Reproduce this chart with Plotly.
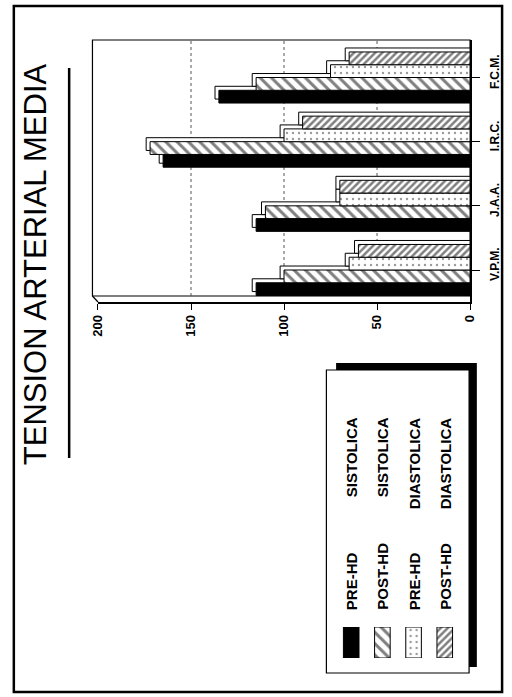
import plotly.graph_objects as go

# ---- data -------------------------------------------------------------
categories = ["V.P.M.", "J.A.A.", "I.R.C.", "F.C.M."]
series_names = ["PRE-HD SISTOLICA", "POST-HD SISTOLICA",
                "PRE-HD DIASTOLICA", "POST-HD DIASTOLICA"]
legend_left = ["PRE-HD", "POST-HD", "PRE-HD", "POST-HD"]
legend_right = ["SISTOLICA", "SISTOLICA", "DIASTOLICA", "DIASTOLICA"]
pre_sist = [115, 115, 165, 135]
post_sist = [100, 110, 172, 115]
pre_diast = [65, 70, 100, 75]
post_diast = [60, 70, 90, 65]
value_ticks = [0, 50, 100, 150, 200]
title_text = "TENSION ARTERIAL MEDIA"

series = [pre_sist, post_sist, pre_diast, post_diast]

# ---- styling ------------------------------------------------------------
W, H = 512, 697
FONT = "Liberation Sans, Arial, sans-serif"
NARROW = "Liberation Sans Narrow, Arial Narrow, Liberation Sans, Arial, sans-serif"


def px(x):
    return x / W


def py(y):
    return 1 - y / H


markers = [
    dict(color="black", line=dict(color="black", width=1)),
    dict(color="white", line=dict(color="black", width=1),
         pattern=dict(shape="\\", size=8, solidity=0.38,
                      fgcolor="black", bgcolor="white")),
    dict(color="white", line=dict(color="black", width=1),
         pattern=dict(shape=".", size=6, solidity=0.12,
                      fgcolor="#333", bgcolor="white")),
    dict(color="white", line=dict(color="black", width=1),
         pattern=dict(shape="/", size=5, solidity=0.5,
                      fgcolor="black", bgcolor="white")),
]

bar_w = 0.199          # thickness of one bar (category units)
depth_y = 0.062        # 3-D depth offset along category axis
depth_x = 2.1          # 3-D depth offset along value axis

fig = go.Figure()


def positions(k):
    return [i + (k - 1.5) * bar_w for i in range(len(categories))]


# back faces (drawn first so front faces cover them)
for k, vals in enumerate(series):
    fig.add_trace(go.Bar(
        orientation="h",
        x=[v + depth_x for v in vals],
        y=[p + depth_y for p in positions(k)],
        base=0, width=bar_w,
        marker=dict(color="white", line=dict(color="black", width=1)),
        showlegend=False, hoverinfo="skip",
    ))

# front faces
for k, vals in enumerate(series):
    fig.add_trace(go.Bar(
        orientation="h", name=series_names[k],
        x=vals, y=positions(k), width=bar_w,
        marker=markers[k], showlegend=False,
    ))

# legend keys on a small auxiliary axis pair
for k in range(4):
    fig.add_trace(go.Bar(
        x=[k], y=[1], width=0.5, xaxis="x2", yaxis="y2",
        marker=markers[k], showlegend=False, hoverinfo="skip",
    ))

y_lo = -32 / 64.17
y_hi = 3 + (77.5 - 40) / 64.17

fig.update_layout(
    width=W, height=H,
    margin=dict(l=0, r=0, t=0, b=0),
    paper_bgcolor="white", plot_bgcolor="rgba(0,0,0,0)",
    barmode="overlay",
    showlegend=False,
    font=dict(family=FONT, color="black"),
    xaxis=dict(
        domain=[px(92.7), px(476)], range=[200, 0],
        tickvals=value_ticks, ticktext=[str(t) for t in value_ticks],
        ticks="outside", ticklen=6, tickwidth=1.2, tickcolor="black",
        showline=True, linewidth=1.5, linecolor="black",
        showgrid=False, zeroline=False, tickangle=-90,
        tickfont=dict(size=13, weight="bold"),
        anchor="y",
    ),
    yaxis=dict(
        domain=[py(302), py(40)], range=[y_lo, y_hi],
        tickvals=list(range(len(categories))), ticktext=categories,
        side="right", ticks="outside", ticklen=8, tickwidth=1,
        tickcolor="black", showline=True, linewidth=1.5, linecolor="black",
        showgrid=False, zeroline=False, tickangle=-90,
        ticklabelshift=-4, ticklabelstandoff=5,
        tickfont=dict(size=12, weight="bold"),
        anchor="x",
    ),
    xaxis2=dict(domain=[px(337.5), px(466)], range=[-0.5, 3.5],
                visible=False, anchor="y2"),
    yaxis2=dict(domain=[py(658), py(627)], range=[0, 1],
                visible=False, anchor="x2"),
)

shapes = []
# outer frame
shapes.append(dict(type="rect", xref="paper", yref="paper",
                   x0=px(6), x1=px(509), y0=py(692), y1=py(6),
                   line=dict(color="black", width=2.5), layer="below"))
# title underline
shapes.append(dict(type="line", xref="paper", yref="paper",
                   x0=px(63), x1=px(63), y0=py(458), y1=py(68),
                   line=dict(color="black", width=2.5)))
# back wall of the chart box
shapes.append(dict(type="rect", xref="paper", yref="paper",
                   x0=px(87), x1=px(476), y0=py(296), y1=py(40),
                   line=dict(color="black", width=1.2), layer="below"))
# floor edge
shapes.append(dict(type="line", xref="paper", yref="paper",
                   x0=px(87), x1=px(92.7), y0=py(296), y1=py(302),
                   line=dict(color="black", width=1.2)))
# dotted grid on the back wall
for g in value_ticks[1:-1]:
    shapes.append(dict(type="line", xref="x", yref="paper",
                       x0=g, x1=g, y0=py(296), y1=py(40),
                       line=dict(color="#555", width=1, dash="dot"),
                       layer="below"))
# legend box with drop shadow
shapes.append(dict(type="rect", xref="paper", yref="paper",
                   x0=px(338), x1=px(483), y0=py(667), y1=py(363),
                   fillcolor="black", line=dict(width=0), layer="below"))
shapes.append(dict(type="rect", xref="paper", yref="paper",
                   x0=px(328), x1=px(475), y0=py(673), y1=py(370),
                   fillcolor="white", line=dict(color="black", width=1.2),
                   layer="below"))
fig.update_layout(shapes=shapes)

annotations = [dict(
    text=title_text, xref="paper", yref="paper",
    x=px(28), y=py(264), xanchor="center", yanchor="middle",
    textangle=-90, showarrow=False,
    font=dict(family=NARROW, size=31, color="black"),
)]
key_x = [353.5, 385.5, 418.5, 450.5]
for k in range(4):
    annotations.append(dict(
        text=legend_left[k], xref="paper", yref="paper",
        x=px(key_x[k]), y=py(612), xanchor="center", yanchor="bottom",
        textangle=-90, showarrow=False,
        font=dict(size=15, weight="bold"),
    ))
    annotations.append(dict(
        text=legend_right[k], xref="paper", yref="paper",
        x=px(key_x[k]), y=py(415), xanchor="center", yanchor="top",
        textangle=-90, showarrow=False,
        font=dict(size=15, weight="bold"),
    ))
fig.update_layout(annotations=annotations)

fig.write_html("out.html")
